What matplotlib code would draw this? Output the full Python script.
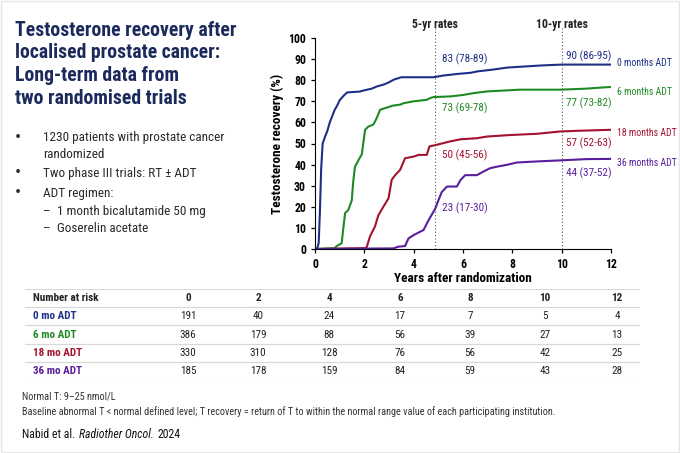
import matplotlib
matplotlib.use("Agg")
import matplotlib.pyplot as plt
from matplotlib import font_manager
from matplotlib.patches import Rectangle

# Pick a narrow font if one is installed, otherwise Roboto.
names = set(f.name for f in font_manager.fontManager.ttflist)
narrow = "Roboto"
for cand in ["Liberation Sans Narrow", "Roboto Condensed", "Open Sans Condensed"]:
    if cand in names:
        narrow = cand
        break
plt.rcParams['font.family'] = [narrow, 'DejaVu Sans']

# Colours of the four arms.
c_blue = "#1f2f86"
c_green = "#1f8a24"
c_red = "#a3122e"
c_purple = "#5a1e9c"
c_title = "#1b2a5c"

# Recovery curves (years, %).
yr_0 = [0, 0.10, 0.15, 0.20, 0.25, 0.31, 0.40, 0.50, 0.60, 0.70, 0.80, 0.90, 1.00, 1.15, 1.30, 1.80,
        2.00, 2.30, 2.50, 2.80, 3.00, 3.20, 3.50, 4.80, 5.20, 5.80, 6.30, 6.60, 7.20, 7.80, 8.50, 9.20,
        10.0, 12.0]
pct_0 = [0, 0.5, 3, 18, 38, 50, 53, 56, 60, 63, 66, 68, 70.5, 72.5, 74.2, 74.6,
         75.2, 76, 77, 78, 79, 80.3, 81.4, 81.4, 82.2, 83, 83.5, 84.2, 85, 86, 86.5, 87,
         87.4, 87.4]

yr_6 = [0, 0.80, 0.88, 1.08, 1.15, 1.22, 1.35, 1.49, 1.55, 1.62, 1.76, 1.90, 2.03, 2.16, 2.37, 2.50,
        2.64, 3.04, 3.18, 3.45, 3.59, 4.00, 4.53, 4.67, 4.80, 5.48, 6.00, 6.50, 7.00, 8.30, 9.94,
        11.0, 11.6, 12.0]
pct_6 = [0, 0.4, 1.4, 2.7, 10, 17, 18.5, 23, 32, 39, 42, 45, 56.5, 58, 59, 62,
         66, 67.5, 68, 68.4, 69.1, 70, 70.7, 71.5, 72, 72.3, 73, 74, 74.7, 75.5, 75.5,
         76, 76.5, 76.8]

yr_18 = [0, 2.05, 2.10, 2.23, 2.43, 2.57, 2.77, 2.98, 3.11, 3.25, 3.45, 3.65, 4.00, 4.20, 4.53, 4.64,
         4.94, 5.48, 5.90, 6.56, 6.97, 7.90, 9.00, 9.94, 10.6, 12.0]
pct_18 = [0, 0.4, 1, 6, 10.6, 16, 20, 24, 32.8, 35, 37.5, 43, 43.8, 44.6, 44.6, 48.6,
          49.4, 51, 52, 52.5, 53.3, 54, 54.6, 55.7, 56, 56.5]

yr_36 = [0, 3.18, 3.38, 3.65, 3.79, 4.00, 4.20, 4.40, 4.53, 4.67, 4.87, 5.00, 5.14, 5.35, 5.75, 5.90,
         6.09, 6.56, 6.83, 7.10, 7.37, 7.78, 8.19, 9.00, 9.94, 11.0, 12.0]
pct_36 = [0, 0.3, 1.1, 1.4, 5, 6.6, 7.8, 9, 12, 15, 19, 23, 27, 29.6, 29.6, 32.7,
          35, 35, 36.7, 38.3, 39, 39.9, 41, 41.5, 42, 42.6, 42.7]

arm_names = ["0 months ADT", "6 months ADT", "18 months ADT", "36 months ADT"]
arm_label_y = [88.1, 74.2, 54.9, 40.7]
rate_5 = ["83 (78-89)", "73 (69-78)", "50 (45-56)", "23 (17-30)"]
rate_5_y = [90.0, 66.8, 44.6, 19.3]
rate_10 = ["90 (86-95)", "77 (73-82)", "57 (52-63)", "44 (37-52)"]
rate_10_y = [91.3, 69.1, 50.2, 35.9]

# Number at risk table.
risk_times = [0, 2, 4, 6, 8, 10, 12]
row_names = ["0 mo ADT", "6 mo ADT", "18 mo ADT", "36 mo ADT"]
risk_0 = [191, 40, 24, 17, 7, 5, 4]
risk_6 = [386, 179, 88, 56, 39, 27, 13]
risk_18 = [330, 310, 128, 76, 56, 42, 25]
risk_36 = [185, 178, 159, 84, 59, 43, 28]

W, H = 680, 453
fig = plt.figure(figsize=(6.8, 4.53), dpi=100)

def fx(px):
    return px / W

def fy(py):
    return 1 - py / H

# faint slide frame
fig.patches.append(Rectangle((0.0015, 0.002), 0.997, 0.996, transform=fig.transFigure,
                             fill=False, edgecolor="#e6e6e6", lw=1.0))

# Title and bullets on the left.
title_lines = ["Testosterone recovery after", "localised prostate cancer:",
               "Long-term data from", "two randomised trials"]
for i, line in enumerate(title_lines):
    fig.text(fx(15), fy(30 + 22.8 * i), line, color=c_title, fontsize=14.2,
             fontweight="bold", va="center", ha="left")

txt = "#2a2a2a"
bsize = 9.5
bullets = [(138, "1230 patients with prostate cancer", True),
           (155, "randomized", None),
           (173, "Two phase III trials: RT \u00b1 ADT", True),
           (193, "ADT regimen:", True)]
for yy, s, dot in bullets:
    if dot:
        fig.text(fx(15), fy(yy), "\u2022", fontsize=13, color=txt, va="center")
    fig.text(fx(43), fy(yy), s, fontsize=bsize, color=txt, va="center")
for yy, s in [(212, "1 month bicalutamide 50 mg"), (229, "Goserelin acetate")]:
    fig.text(fx(43), fy(yy), "\u2013", fontsize=bsize, color=txt, va="center")
    fig.text(fx(57), fy(yy), s, fontsize=bsize, color=txt, va="center")

# Main chart.
ax = fig.add_axes([fx(315), fy(249), fx(611 - 315), (249 - 38) / H])
colors = [c_blue, c_green, c_red, c_purple]
curves = [(yr_0, pct_0), (yr_6, pct_6), (yr_18, pct_18), (yr_36, pct_36)]
for (xs, ys), col in zip(curves, colors):
    ax.plot(xs, ys, color=col, lw=1.5)

ax.axvline(4.87, color="#555555", ls=(0, (1, 2)), lw=0.8, ymax=1.05, clip_on=False)
ax.axvline(10.0, color="#555555", ls=(0, (1, 2)), lw=0.8, ymax=1.05, clip_on=False)
ax.text(4.87, 103.5, "5-yr rates", ha="center", va="bottom", fontsize=8.5, fontweight="bold", color="#222222")
ax.text(10.0, 103.5, "10-yr rates", ha="center", va="bottom", fontsize=8.5, fontweight="bold", color="#222222")

for i, col in enumerate(colors):
    ax.text(5.14, rate_5_y[i], rate_5[i], color=col, fontsize=8, va="center", ha="left")
    ax.text(10.19, rate_10_y[i], rate_10[i], color=col, fontsize=8, va="center", ha="left")
    ax.text(12.25, arm_label_y[i], arm_names[i], color=col, fontsize=7, va="center", ha="left",
            clip_on=False)

ax.set_xlim(0, 12)
ax.set_ylim(0, 100)
ax.set_xticks(range(0, 13, 2))
ax.set_yticks(range(0, 101, 10))
ax.spines["top"].set_visible(False)
ax.spines["right"].set_visible(False)
ax.tick_params(labelsize=8.5, width=0.9, length=3)
for lab in ax.get_xticklabels() + ax.get_yticklabels():
    lab.set_fontweight("bold")
ax.set_xlabel("Years after randomization", fontsize=9.5, fontweight="bold", labelpad=1)
ax.set_ylabel("Testosterone recovery (%)", fontsize=9.5, fontweight="bold", labelpad=3)

# Number at risk table.
axt = fig.add_axes([fx(25), fy(380), fx(640 - 25), (380 - 289) / H])
axt.set_xlim(25, 640)
axt.set_ylim(5, 0)
axt.axis("off")
col_x = [188, 258, 329, 400, 470, 545, 617]
for k in range(6):
    axt.axhline(k, color="#d8d8d8", lw=0.9)
tsize = 8
axt.text(33, 0.5, "Number at risk", fontsize=tsize, fontweight="bold", color="#222222", va="center")
for t, cx in zip(risk_times, col_x):
    axt.text(cx, 0.5, str(t), fontsize=tsize, fontweight="bold", color="#222222", va="center", ha="center")
rows = [risk_0, risk_6, risk_18, risk_36]
for r, (vals, col) in enumerate(zip(rows, colors)):
    axt.text(33, r + 1.5, row_names[r], fontsize=tsize, fontweight="bold", color=col, va="center")
    for v, cx in zip(vals, col_x):
        axt.text(cx, r + 1.5, str(v), fontsize=tsize, color="#222222", va="center", ha="center")

# Footnotes.
fig.text(fx(22), fy(397), "Normal T: 9\u201325 nmol/L", fontsize=7.3, color="#333333", va="center")
fig.text(fx(22), fy(412), "Baseline abnormal T < normal defined level; T recovery = return of T to within "
         "the normal range value of each participating institution.", fontsize=7.3, color="#333333", va="center")
t1 = fig.text(fx(22), fy(434), "Nabid et al.", fontsize=8.5, color="#111111", va="center")
t2 = fig.text(0, 0, "Radiother Oncol.", fontsize=8.5, color="#111111", style="italic")
t3 = fig.text(0, 0, "2024", fontsize=8.5, color="#111111")
fig.canvas.draw()
r = fig.canvas.get_renderer()
bb1 = t1.get_window_extent(r)
t2.set_position((bb1.x1 / W + 0.005, fy(434)))
t2.set_va("center")
bb2 = t2.get_window_extent(r)
t3.set_position((bb2.x1 / W + 0.005, fy(434)))
t3.set_va("center")

fig.savefig("out.png", dpi=100)
